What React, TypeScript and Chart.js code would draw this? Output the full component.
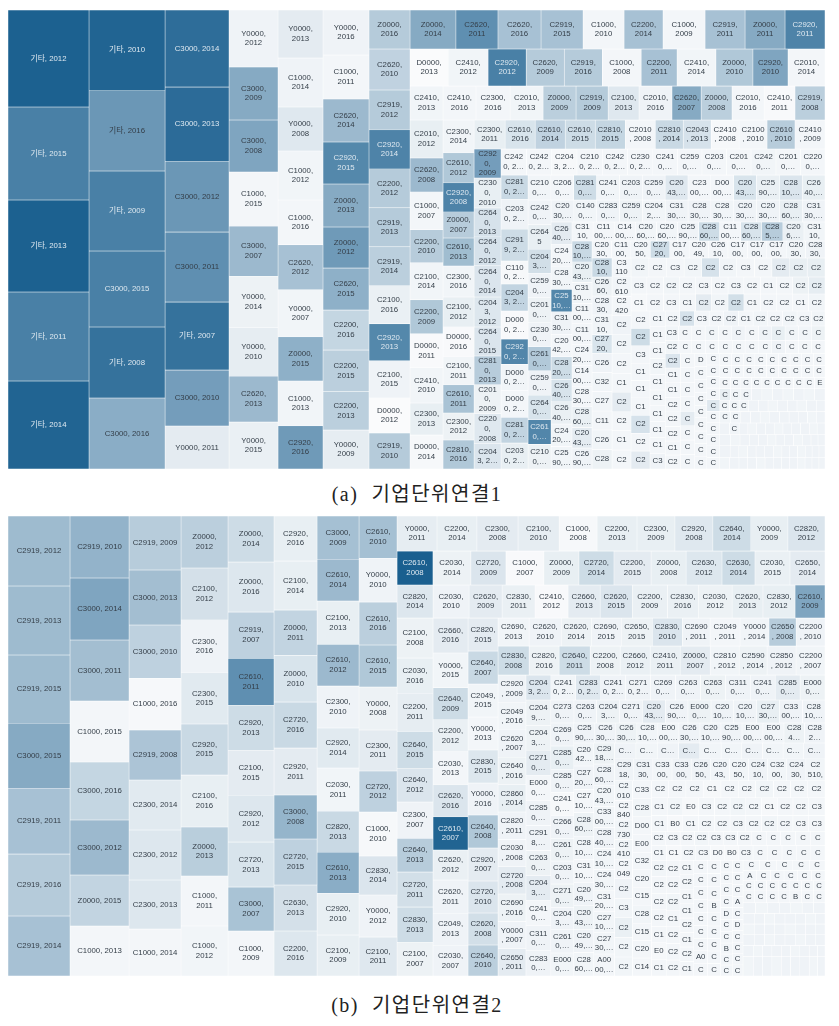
import React, { useEffect, useRef } from "react";
import { Chart, registerables } from "chart.js";

Chart.register(...registerables);

type Strip = [string, string[], number[], number[]];

const PANEL_W = 817;
const PANEL_A_H = 459;
const PANEL_B_H = 460;

// ---------- Panel (a): each strip = direction, labels, cell values, colour values ----------
const a01: Strip = ["v", ["기타, 2012", "기타, 2015", "기타, 2013", "기타, 2011", "기타, 2014"], [786, 753, 745, 721, 713], [99, 79, 99, 79, 97]];
const a02: Strip = ["v", ["기타, 2010", "기타, 2016", "기타, 2009", "C3000, 2015", "기타, 2008", "C3000, 2016"], [613, 611, 608, 578, 540, 540], [97, 64, 79, 79, 88, 50]];
const a03: Strip = ["v", ["C3000, 2014", "C3000, 2013", "C3000, 2012", "C3000, 2011", "기타, 2007", "C3000, 2010", "Y0000, 2011"], [493, 474, 454, 448, 435, 358, 275], [91, 92, 64, 69, 88, 60, 10]];
const a04: Strip = ["v", ["Y0000,\n2012", "C3000,\n2009", "C3000,\n2008", "C1000,\n2015", "C3000,\n2007", "Y0000,\n2014", "Y0000,\n2010", "C2620,\n2013", "Y0000,\n2015"], [279, 260, 255, 265, 245, 250, 240, 225, 230], [5, 52, 55, 3, 42, 6, 9, 42, 7]];
const a05: Strip = ["v", ["Y0000,\n2013", "C1000,\n2014", "Y0000,\n2008", "C1000,\n2012", "C1000,\n2016", "C2620,\n2012", "Y0000,\n2007", "Z0000,\n2015", "C1000,\n2013", "C2920,\n2016"], [216, 220, 198, 220, 202, 202, 212, 198, 202, 194], [10, 5, 12, 4, 3, 37, 4, 48, 4, 62]];
const a06: Strip = ["v", ["Y0000,\n2016", "C1000,\n2011", "C2620,\n2014", "C2920,\n2015", "Z0000,\n2013", "Z0000,\n2012", "C2620,\n2015", "C2200,\n2016", "C2200,\n2015", "C2200,\n2013", "Y0000,\n2009"], [207, 202, 198, 193, 198, 189, 193, 184, 189, 179, 179], [5, 3, 42, 74, 52, 62, 48, 24, 28, 28, 9]];
const a07: Strip = ["v", ["Z0000,\n2016", "C2620,\n2010", "C2919,\n2012", "C2920,\n2014", "C2200,\n2012", "C2919,\n2013", "C2919,\n2014", "C2100,\n2016", "C2920,\n2013", "C2100,\n2015", "D0000,\n2012", "C2919,\n2010"], [160, 168, 164, 160, 160, 160, 160, 156, 152, 152, 144, 148], [31, 26, 31, 77, 31, 31, 28, 7, 74, 5, 0, 31]];
const a08: Strip = ["h", ["Z0000,\n2014", "C2620,\n2011", "C2620,\n2016", "C2919,\n2015", "C1000,\n2010", "C2200,\n2014", "C1000,\n2009", "C2919,\n2011", "Z0000,\n2011", "C2920,\n2011"], [179, 164, 168, 164, 160, 152, 164, 156, 156, 156], [52, 69, 37, 37, 3, 37, 3, 37, 52, 77]];
const a09: Strip = ["h", ["D0000,\n2013", "C2410,\n2012", "C2920,\n2012", "C2620,\n2009", "C2919,\n2016", "C1000,\n2008", "C2200,\n2011", "C2410,\n2014", "Z0000,\n2010", "C2920,\n2010", "C2010,\n2014"], [141, 148, 141, 141, 141, 144, 133, 144, 137, 130, 137], [0, 4, 79, 31, 31, 3, 37, 4, 33, 55, 3]];
const a10: Strip = ["h", ["C2410,\n2013", "C2410,\n2016", "C2300,\n2016", "C2010,\n2013", "Z0000,\n2009", "C2919,\n2009", "C2100,\n2013", "C2010,\n2016", "C2620,\n2007", "Z0000,\n2008", "C2010,\n2016", "C2410,\n2011", "C2919,\n2008"], [112, 112, 116, 112, 112, 109, 105, 112, 99, 105, 109, 105, 102], [4, 3, 3, 4, 28, 31, 12, 5, 52, 28, 3, 1, 28]];
const a11: Strip = ["v", ["C2010,\n2012", "C2620,\n2008", "C1000,\n2007", "C2200,\n2010", "C2100,\n2014", "C2200,\n2009", "D0000,\n2011", "C2410,\n2010", "C2300,\n2013", "D0000,\n2014"], [125, 112, 125, 109, 122, 112, 112, 116, 106, 112], [8, 42, 3, 30, 4, 33, 1, 4, 8, 2]];
const a12: Strip = ["v", ["C2300,\n2014", "C2610,\n2012", "C2920,\n2008", "Z0000,\n2007", "C2610,\n2013", "C2300,\n2016", "C2100,\n2012", "D0000,\n2016", "C2100,\n2011", "C2610,\n2011", "C2300,\n2012", "C2810,\n2016"], [102, 93, 90, 81, 87, 96, 93, 93, 87, 87, 84, 90], [4, 33, 77, 30, 40, 4, 8, 1, 4, 36, 6, 33]];
const a13: Strip = ["h", ["C2300,\n2011", "C2610,\n2016", "C2610,\n2014", "C2610,\n2015", "C2810,\n2015", "C2010\n, 2008", "C2810\n, 2014", "C2043\n, 2013", "C2410\n, 2008", "C2100\n, 2010", "C2610\n, 2010", "C2410\n, 2009"], [90, 87, 87, 87, 87, 87, 81, 81, 81, 81, 81, 87], [8, 15, 26, 20, 24, 3, 22, 16, 2, 3, 30, 3]];
const a14: Strip = ["v", ["C292\n0,\n2009", "C230\n0,\n2010", "C264\n0,\n2013", "C264\n0,\n2012", "C264\n0,\n2014", "C204\n3,\n2012", "C264\n0,\n2015", "C281\n0,\n2013", "C201\n0,\n2009", "C220\n0,\n2008", "C204\n3, 2…"], [78, 81, 78, 78, 84, 81, 78, 78, 78, 81, 68], [60, 8, 16, 16, 14, 13, 14, 30, 6, 12, 14]];
const a15: Strip = ["h", ["C242\n0, 2…", "C242\n0, 2…", "C204\n3, 2…", "C210\n0, 2…", "C242\n0, 2…", "C230\n0, 2…", "C241\n0,…", "C259\n0,…", "C203\n0,…", "C201\n0,…", "C242\n0,…", "C201\n0,…", "C220\n0,…"], [66, 66, 66, 66, 66, 66, 64, 64, 64, 64, 65, 64, 64], [3, 3, 2, 3, 3, 3, 3, 3, 3, 3, 4, 3, 3]];
const a16: Strip = ["v", ["C281\n0, 2…", "C203\n0, 2…", "C291\n9, 2…", "C110\n0, 2…", "C204\n3, 2…", "D000\n0, 2…", "C292\n0, 2…", "D000\n0, 2…", "D000\n0, 2…", "C281\n0, 2…", "C203\n0, 2…"], [65, 81, 86, 62, 73, 76, 68, 70, 73, 70, 70], [22, 5, 20, 2, 25, 1, 75, 4, 3, 25, 8]];
const a17: Strip = ["h", ["C210\n0,…", "C206\n0,…", "C281\n0,…", "C241\n0,…", "C203\n0,…", "C259\n0,…", "C20\n43,…", "C23\n00,…", "D00\n00,…", "C20\n43,…", "C25\n90,…", "C28\n10,…", "C26\n40,…"], [57, 57, 57, 57, 57, 57, 57, 57, 57, 57, 57, 57, 57], [4, 3, 20, 4, 5, 5, 12, 3, 3, 15, 7, 14, 8]];
const a18: Strip = ["v", ["C242\n0,…", "C264\n5", "C204\n3,…", "C259\n0,…", "C201\n0,…", "C230\n0,…", "C261\n0,…", "C259\n0,…", "C264\n0,…", "C261\n0,…", "C210\n0,…"], [57, 56, 56, 56, 56, 56, 56, 56, 56, 57, 57], [5, 8, 18, 5, 6, 5, 32, 5, 15, 75, 6]];
const a19: Strip = ["h", ["C20\n30,…", "C140\n0,…", "C283\n0,…", "C259\n0,…", "C204\n2,…", "C31\n30,…", "C28\n30,…", "C28\n30,…", "C20\n30,…", "C20\n30,…", "C28\n60,…", "C31\n30,…"], [50, 50, 50, 50, 50, 50, 50, 50, 50, 50, 50, 50], [5, 4, 5, 6, 4, 5, 5, 4, 5, 5, 8, 5]];
const a20: Strip = ["v", ["C26\n40,…", "C24\n20,…", "C28\n30,…", "C25\n10,…", "C31\n30,…", "C20\n42,…", "C28\n20,…", "C26\n40,…", "C26\n40,…", "C24\n20,…", "C25\n90,…"], [47, 47, 47, 47, 47, 47, 47, 47, 47, 47, 47], [10, 3, 4, 75, 5, 3, 20, 15, 7, 4, 4]];
const a21: Strip = ["h", ["C31\n10,", "C11\n00,…", "C14\n00,…", "C20\n60,…", "C20\n60,…", "C25\n90,…", "C28\n60,…", "C11\n00,…", "C28\n60,…", "C28\n5,…", "C20\n6,…", "C31\n10,"], [40, 40, 40, 40, 40, 40, 40, 40, 40, 40, 40, 40], [3, 3, 3, 4, 4, 5, 20, 3, 15, 30, 7, 4]];
const a22: Strip = ["v", ["C28\n10,…", "C20\n43,…", "C31\n10,…", "C11\n00,…", "C11\n00,…", "C24\n20,…", "C14\n00,…", "C28\n30,…", "C28\n60,…", "C20\n43,…", "C26\n90,…"], [42, 41, 42, 41, 42, 41, 42, 41, 42, 41, 42], [22, 8, 4, 3, 3, 3, 3, 3, 7, 10, 5]];
const a23: Strip = ["h", ["C20\n30,", "C11\n00,", "C20\n50,", "C27\n20,", "C17\n00,", "C20\n49,", "C26\n10,", "C17\n00,", "C17\n00,", "C17\n00,", "C20\n30,", "C28\n30,"], [33, 33, 33, 33, 33, 33, 33, 33, 33, 33, 33, 33], [3, 3, 3, 20, 3, 3, 3, 3, 3, 3, 4, 5]];
const a24: Strip = ["v", ["C28\n10,", "C26\n60,", "C28\n30,", "C31\n10,", "C27\n20,", "C26", "C32", "C27", "C11", "C26", "C28"], [38, 38, 38, 39, 38, 38, 38, 39, 38, 39, 39], [22, 6, 5, 4, 15, 5, 4, 4, 3, 4, 6]];
const a25: Strip = ["v", ["C3\n110", "C2\n610", "C2\n420", "C2", "C2", "C2", "C1", "C2", "C2", "C1", "C2"], [36, 37, 36, 37, 36, 37, 36, 37, 36, 37, 36], [3, 4, 3, 5, 4, 3, 3, 10, 3, 3, 3]];
const a26: Strip = ["h", ["C2", "C2", "C3", "C2", "C2", "C2", "C3", "C2", "C2", "C2", "C2"], [34, 33, 34, 33, 34, 33, 34, 33, 34, 33, 34], [4, 3, 3, 4, 16, 4, 3, 3, 10, 8, 8]];
const a27: Strip = ["h", ["C3", "C2", "C2", "C2", "C3", "C2", "C3", "C2", "C1", "C2", "C2", "C2"], [27, 28, 27, 28, 27, 28, 27, 28, 27, 28, 27, 28], [3, 3, 4, 3, 3, 3, 3, 3, 3, 3, 6, 9]];
const a28: Strip = ["h", ["C1", "C2", "C3", "C1", "C2", "C2", "C2", "C1", "C2", "C2", "C1", "C2"], [27, 28, 27, 28, 27, 28, 27, 28, 27, 28, 27, 28], [2, 3, 3, 3, 10, 4, 18, 3, 3, 3, 3, 4]];
const a29: Strip = ["v", ["C2", "C2", "C3", "C1", "C1", "C1", "C2", "C2", "C2"], [33, 33, 33, 33, 33, 33, 34, 34, 34], [3, 20, 3, 3, 3, 3, 16, 3, 10]];
const a30: Strip = ["v", ["C1", "C1", "C1", "C2", "C1", "C1", "C1", "C1", "C1", "C3"], [24, 24, 24, 24, 24, 24, 24, 24, 24, 24], [3, 3, 3, 4, 3, 3, 3, 3, 3, 5]];
const a31: Strip = ["h", ["C2", "C2", "C3", "C2", "C2", "C1", "C2", "C2", "C2", "C3", "C2"], [22, 22, 22, 22, 22, 22, 22, 22, 22, 22, 20], [3, 16, 3, 3, 5, 3, 4, 3, 4, 3, 4]];
const a32: Strip = ["h", ["C3", "C", "C", "C", "C", "C", "C", "C", "C", "C", "C", "C"], [19, 19, 19, 19, 19, 19, 19, 19, 19, 19, 19, 19], [4, 3, 3, 4, 3, 5, 3, 5, 8, 4, 4, 6]];
const a33: Strip = ["h", ["C2", "C", "C", "C", "C", "C", "C", "C", "C", "C", "C", "C"], [18, 17, 18, 17, 18, 17, 18, 17, 18, 17, 17, 18], [4, 3, 3, 3, 3, 3, 3, 3, 5, 3, 3, 3]];
const a34: Strip = ["v", ["C2", "C1", "C1", "C2", "C2", "C2", "C1", "C2"], [22, 22, 22, 22, 22, 22, 21, 21], [14, 3, 3, 3, 3, 3, 3, 3]];
const a35: Strip = ["v", ["C", "C", "C", "C", "C", "C", "C", "C"], [21, 21, 21, 21, 21, 21, 21, 21], [3, 3, 3, 3, 10, 3, 3, 3]];
const a36: Strip = ["v", ["D", "C", "C", "C", "C", "C", "C", "C", "C"], [16, 16, 15, 16, 15, 16, 15, 16, 15], [3, 3, 3, 3, 3, 3, 3, 3, 3]];
const a37: Strip = ["v", ["C", "C", "C", "C", "C", "C", "C", "C", "C", "C"], [15, 15, 15, 15, 15, 15, 15, 15, 15, 15], [3, 3, 3, 3, 12, 3, 3, 3, 3, 3]];
const a38: Strip = ["h", ["C", "C", "C", "C", "C", "C", "C", "C", "C"], [14, 14, 14, 14, 14, 14, 14, 14, 14], [3, 3, 3, 3, 3, 3, 3, 3, 3]];
const a39: Strip = ["h", ["C", "C", "C", "C", "C", "C", "C", "C", "C"], [14, 14, 14, 14, 14, 14, 14, 14, 14], [3, 3, 3, 3, 3, 3, 3, 3, 3]];
const a40: Strip = ["h", ["C", "C", "C", "C", "C", "C", "C", "C", "C", "E"], [12, 12, 12, 12, 12, 12, 12, 12, 12, 12], [3, 3, 3, 3, 3, 3, 3, 3, 3, 3]];
const a41: Strip = ["h", ["C", "C", "C", "", "", "", "", "", "", ""], [12, 12, 12, 12, 12, 12, 12, 12, 12, 12], [8, 4, 4, 5, 4, 5, 4, 5, 4, 5]];
const a42: Strip = ["h", ["C", "C", "C", "", "", "", "", "", "", "", ""], [11, 11, 11, 11, 11, 11, 11, 11, 11, 11, 10], [4, 4, 4, 5, 5, 4, 5, 5, 4, 5, 5]];
const a43: Strip = ["h", ["C", "C", "", "", "", "", "", "", "", "", ""], [12, 12, 11, 11, 11, 11, 11, 11, 10, 10, 10], [4, 4, 5, 5, 4, 5, 5, 5, 5, 4, 5]];
const a44: Strip = ["h", ["", "C", "", "", "", "", "", "", "", "", "", ""], [11, 11, 10, 10, 10, 10, 10, 10, 10, 10, 9, 9], [5, 4, 5, 4, 5, 5, 4, 5, 5, 5, 4, 5]];
const a45: Strip = ["h", ["", "", "", "", "", "", "", "", "", "", "", ""], [12, 11, 11, 10, 10, 10, 10, 10, 10, 10, 8, 8], [5, 4, 5, 5, 5, 4, 5, 5, 4, 5, 5, 5]];
const a46: Strip = ["h", ["", "", "", "", "", "", "", "", "", "", "", "", ""], [12, 10, 10, 10, 10, 10, 10, 9, 9, 9, 8, 8, 7], [5, 5, 4, 5, 5, 5, 4, 5, 5, 4, 5, 5, 5]];
const a47: Strip = ["h", ["", "", "", "", "", "", "", "", "", "", "", "", ""], [11, 11, 10, 10, 10, 10, 9, 9, 9, 9, 8, 8, 7], [4, 5, 5, 5, 4, 5, 5, 5, 5, 4, 5, 5, 5]];

// ---------- Panel (b) ----------
const b01: Strip = ["v", ["C2919, 2012", "C2919, 2013", "C2919, 2015", "C3000, 2015", "C2919, 2011", "C2919, 2016", "C2919, 2014"], [434, 428, 422, 403, 409, 384, 372], [41, 41, 41, 52, 37, 31, 37]];
const b02: Strip = ["v", ["C2919, 2010", "C3000, 2014", "C3000, 2011", "C1000, 2015", "C3000, 2016", "C3000, 2012", "Z0000, 2015", "C1000, 2013"], [366, 366, 360, 360, 342, 325, 301, 295], [46, 55, 39, 3, 24, 42, 25, 3]];
const b03: Strip = ["v", ["C2919, 2009", "C3000, 2013", "C3000, 2010", "C1000, 2016", "C2919, 2008", "C2300, 2014", "C2300, 2012", "C2300, 2013", "C1000, 2014"], [281, 286, 276, 270, 260, 260, 260, 255, 244], [30, 39, 27, 2, 35, 11, 13, 13, 3]];
const b04: Strip = ["v", ["Z0000,\n2012", "C2100,\n2012", "C2300,\n2016", "C2300,\n2015", "C2920,\n2015", "C2100,\n2016", "Z0000,\n2013", "C1000,\n2011", "C1000,\n2012"], [244, 244, 249, 240, 240, 244, 230, 235, 235], [28, 17, 5, 11, 22, 8, 29, 3, 4]];
const b05: Strip = ["v", ["Z0000,\n2014", "Z0000,\n2016", "C2919,\n2007", "C2610,\n2011", "C2920,\n2013", "C2100,\n2015", "C2920,\n2012", "C2720,\n2013", "C3000,\n2007", "C1000,\n2009"], [212, 230, 212, 216, 207, 207, 216, 207, 202, 207], [20, 13, 27, 69, 20, 10, 13, 15, 36, 3]];
const b06: Strip = ["v", ["C2920,\n2016", "C2100,\n2014", "Z0000,\n2011", "Z0000,\n2010", "C2720,\n2016", "C2920,\n2011", "C3000,\n2008", "C2720,\n2015", "C2630,\n2013", "C2200,\n2016"], [194, 211, 194, 202, 198, 202, 189, 198, 198, 194], [8, 8, 25, 15, 22, 10, 45, 27, 17, 13]];
const b07: Strip = ["v", ["C3000,\n2009", "C2610,\n2014", "C2100,\n2013", "C2610,\n2012", "C2300,\n2010", "C2920,\n2014", "C2030,\n2011", "C2820,\n2013", "C2610,\n2013", "C2920,\n2010", "C2100,\n2009"], [181, 176, 181, 176, 176, 168, 181, 172, 172, 176, 172], [38, 42, 8, 42, 5, 11, 4, 22, 50, 8, 8]];
const b08: Strip = ["v", ["C2610,\n2010", "Y0000,\n2010", "C2610,\n2016", "C2610,\n2015", "Y0000,\n2008", "C2300,\n2011", "C2720,\n2012", "C1000,\n2010", "C2830,\n2014", "Y0000,\n2012", "C2100,\n2011"], [160, 167, 163, 160, 163, 156, 156, 167, 148, 160, 148], [38, 5, 28, 33, 6, 10, 27, 2, 14, 5, 12]];
const b09: Strip = ["h", ["Y0000,\n2011", "C2200,\n2014", "C2300,\n2008", "C2100,\n2010", "C1000,\n2008", "C2200,\n2013", "C2300,\n2009", "C2920,\n2008", "C2640,\n2014", "Y0000,\n2009", "C2820,\n2012"], [140, 140, 144, 144, 133, 140, 133, 133, 133, 130, 130], [9, 8, 10, 9, 2, 8, 8, 12, 20, 8, 14]];
const b10: Strip = ["h", ["C2610,\n2008", "C2030,\n2014", "C2720,\n2009", "C1000,\n2007", "Z0000,\n2009", "C2720,\n2014", "C2200,\n2015", "Z0000,\n2008", "C2630,\n2012", "C2630,\n2014", "C2030,\n2015", "C2650,\n2014"], [122, 129, 119, 129, 119, 119, 126, 119, 122, 112, 119, 119], [100, 6, 14, 1, 8, 20, 10, 8, 13, 20, 7, 10]];
const b11: Strip = ["h", ["C2820,\n2014", "C2030,\n2010", "C2620,\n2009", "C2830,\n2011", "C2410,\n2012", "C2660,\n2013", "C2620,\n2015", "C2200,\n2009", "C2830,\n2016", "C2030,\n2012", "C2620,\n2013", "C2830,\n2012", "C2610,\n2009"], [119, 119, 109, 109, 109, 106, 106, 116, 102, 112, 102, 106, 99], [13, 5, 10, 7, 1, 10, 14, 7, 7, 6, 8, 8, 55]];
const b12: Strip = ["v", ["C2100,\n2008", "C2030,\n2016", "C2200,\n2011", "C2640,\n2015", "C2640,\n2012", "C2300,\n2007", "C2640,\n2013", "C2720,\n2011", "C2830,\n2013", "C2100,\n2007"], [144, 126, 137, 133, 122, 130, 122, 126, 126, 122], [6, 8, 9, 20, 14, 5, 30, 18, 20, 6]];
const b13: Strip = ["v", ["C2660,\n2016", "Y0000,\n2015", "C2640,\n2009", "C2200,\n2012", "C2030,\n2013", "C2620,\n2016", "C2610,\n2007", "C2620,\n2012", "C2620,\n2011", "C2049,\n2013", "C2030,\n2007"], [122, 122, 112, 112, 116, 112, 116, 105, 116, 112, 108], [10, 4, 20, 7, 3, 14, 97, 7, 5, 5, 5]];
const b14: Strip = ["v", ["C2820,\n2015", "C2640,\n2007", "C2049,\n2015", "Y0000,\n2013", "C2830,\n2015", "Y0000,\n2016", "C2640,\n2008", "C2920,\n2007", "C2720,\n2010", "C2620,\n2008", "C2640,\n2010"], [99, 99, 99, 99, 99, 96, 99, 99, 96, 96, 93], [10, 22, 4, 3, 13, 5, 33, 10, 14, 18, 28]];
const b15: Strip = ["h", ["C2690,\n2013", "C2620,\n2010", "C2620,\n2014", "C2690,\n2015", "C2650,\n2015", "C2830,\n2010", "C2690\n, 2011", "C2049\n, 2011", "Y0000\n, 2014", "C2650\n, 2008", "C2200\n, 2010"], [87, 90, 84, 84, 87, 84, 78, 84, 81, 76, 81], [4, 5, 6, 5, 6, 14, 5, 3, 4, 30, 5]];
const b16: Strip = ["h", ["C2830,\n2008", "C2820,\n2016", "C2640,\n2011", "C2200,\n2008", "C2660,\n2012", "C2410,\n2011", "Z0000,\n2007", "C2810\n, 2012", "C2590\n, 2014", "C2850\n, 2012", "C2200\n, 2007"], [90, 87, 90, 87, 87, 87, 87, 84, 81, 84, 84], [20, 6, 20, 6, 7, 7, 10, 4, 6, 5, 4]];
const b17: Strip = ["v", ["C2920\n, 2009", "C2049\n, 2016", "C2620\n, 2007", "C2640\n, 2016", "C2860\n, 2014", "C2820\n, 2011", "C2030\n, 2008", "C2720\n, 2008", "C2690\n, 2016", "Y0000\n, 2007", "C2650\n, 2011"], [77, 76, 76, 77, 76, 77, 76, 76, 77, 76, 76], [5, 4, 5, 6, 8, 5, 5, 10, 6, 5, 10]];
const b18: Strip = ["h", ["C204\n3, 2…", "C241\n0, 2…", "C283\n0, 2…", "C241\n0, 2…", "C271\n0, 2…", "C269\n0,…", "C263\n0,…", "C263\n0,…", "C311\n0,…", "C241\n0,…", "C285\n0,…", "E000\n0,…"], [62, 62, 62, 62, 62, 62, 62, 62, 62, 62, 62, 62], [14, 4, 12, 5, 5, 5, 5, 6, 5, 5, 10, 6]];
const b19: Strip = ["v", ["C204\n9,…", "C204\n3,…", "C271\n0,…", "E000\n0,…", "C285\n0,…", "C291\n8,…", "C263\n0,…", "C204\n3,…", "C241\n0,…", "C311\n0,…", "C283\n0,…"], [63, 62, 63, 62, 63, 62, 63, 62, 63, 62, 63], [6, 6, 10, 3, 5, 5, 6, 10, 3, 5, 5]];
const b20: Strip = ["h", ["C273\n0,…", "C263\n0,…", "C204\n3,…", "C271\n0,…", "C20\n43,…", "C26\n90,…", "E000\n0,…", "C20\n10,…", "C20\n10,…", "C27\n30,…", "C33\n00,…", "C28\n10,…"], [53, 52, 53, 52, 53, 52, 53, 52, 53, 52, 53, 52], [5, 5, 6, 5, 10, 5, 6, 5, 5, 8, 5, 5]];
const b21: Strip = ["v", ["C269\n0,…", "C285\n0,…", "C285\n0,…", "C241\n0,…", "C266\n0,…", "C261\n0,…", "C203\n0,…", "C271\n0,…", "C204\n3,…", "C261\n0,…", "E000\n0,…"], [53, 53, 53, 53, 53, 52, 53, 53, 52, 53, 53], [5, 8, 5, 2, 5, 6, 5, 6, 5, 5, 4]];
const b22: Strip = ["h", ["C25\n90,…", "C26\n30,…", "C26\n30,…", "C28\n10,…", "E00\n00,…", "C26\n30,…", "C20\n10,…", "C25\n90,…", "E00\n00,…", "E00\n00,…", "C28\n4…", "C28\n2…"], [42, 42, 42, 42, 42, 42, 42, 42, 42, 42, 41, 41], [5, 5, 6, 4, 4, 5, 5, 5, 4, 4, 6, 5]];
const b23: Strip = ["v", ["C20\n42…", "C27\n20,…", "C27\n10,…", "C28\n60,…", "C28\n10,…", "C31\n10,…", "C20\n49,…", "C20\n43,…", "C20\n49,…", "C28\n60,…"], [46, 47, 46, 47, 46, 47, 46, 47, 46, 47], [4, 5, 3, 6, 4, 3, 5, 6, 5, 4]];
const b24: Strip = ["v", ["C29\n18,…", "C28\n60,…", "C20\n43,…", "C33\n00,…", "C28\n40,…", "C24\n10,…", "C24\n30,…", "C31\n20,…", "C27\n10,…", "C27\n30,…", "A00\n00,…"], [44, 44, 44, 44, 44, 44, 44, 44, 44, 44, 46], [6, 5, 4, 4, 5, 4, 4, 3, 4, 4, 3]];
const b25: Strip = ["h", ["C…", "C…", "C…", "C…", "C…", "C…", "C…", "C…", "C…", "C…"], [34, 34, 34, 34, 34, 33, 33, 33, 33, 34], [5, 4, 5, 10, 4, 4, 5, 4, 4, 5]];
const b26: Strip = ["h", ["C29\n18,", "C31\n30,", "C33\n00,", "C33\n00,", "C26\n50,", "C20\n43,", "C20\n50,", "C24\n10,", "C32\n00,", "C24\n30,", "C2\n510,"], [42, 42, 42, 42, 42, 42, 42, 42, 42, 42, 42], [5, 5, 4, 5, 5, 4, 4, 5, 4, 5, 4]];
const b27: Strip = ["v", ["C2\n010", "C2\n840", "C2\n730", "C2\n410", "C2\n049", "C2", "C3", "C2", "C2", "C2"], [35, 35, 35, 35, 35, 35, 35, 35, 35, 34], [4, 3, 4, 4, 3, 5, 4, 7, 4, 4]];
const b28: Strip = ["v", ["C33", "C28", "D00", "E00", "C32", "C20", "C15", "C28", "C15", "C20", "C14"], [34, 34, 34, 33, 33, 33, 34, 34, 33, 33, 34], [3, 4, 3, 3, 3, 3, 3, 4, 3, 3, 3]];
const b29: Strip = ["h", ["C2", "C2", "C2", "C1", "C2", "C2", "C2", "C2", "C2", "C2"], [29, 29, 29, 30, 29, 29, 30, 29, 29, 29], [3, 3, 3, 2, 3, 3, 4, 3, 3, 3]];
const b30: Strip = ["h", ["C1", "C2", "E0", "C3", "C2", "C2", "C2", "C1", "C2", "C2", "C3"], [28, 28, 28, 28, 28, 28, 28, 28, 28, 28, 29], [3, 4, 2, 3, 3, 4, 3, 2, 3, 3, 3]];
const b31: Strip = ["h", ["C1", "B0", "C1", "C2", "C2", "C3", "C2", "C2", "C2", "C3", "C3"], [25, 25, 25, 25, 25, 25, 25, 25, 25, 25, 26], [3, 2, 3, 3, 3, 3, 3, 4, 3, 3, 3]];
const b32: Strip = ["h", ["C2", "C3", "C2", "C2", "C3", "C3", "C2", "C", "C", "C", "C", "C"], [20, 20, 20, 20, 20, 20, 20, 20, 20, 21, 21, 20], [3, 3, 3, 4, 3, 3, 3, 3, 3, 3, 3, 3]];
const b33: Strip = ["h", ["C1", "C1", "C2", "C3", "D0", "B0", "C3", "C", "C", "C", "C", "C"], [22, 22, 22, 22, 21, 21, 21, 21, 22, 22, 21, 21], [3, 2, 3, 3, 2, 2, 3, 3, 3, 3, 3, 3]];
const b34: Strip = ["v", ["C2", "C2", "C2", "C2", "C1", "E0", "C1"], [24, 25, 24, 25, 24, 25, 24], [4, 3, 3, 3, 3, 2, 3]];
const b35: Strip = ["v", ["C2", "C2", "C2", "C1", "C2", "C2", "C2"], [23, 23, 23, 23, 23, 23, 22], [3, 3, 4, 3, 3, 3, 3]];
const b36: Strip = ["v", ["C1", "C2", "C1", "C1", "C2", "C1", "C2", "C1"], [20, 20, 20, 20, 20, 20, 20, 20], [3, 3, 3, 3, 3, 3, 3, 3]];
const b37: Strip = ["v", ["C", "C", "C", "C", "C", "C", "C", "A0", "C"], [18, 18, 18, 18, 18, 18, 17, 18, 17], [3, 3, 3, 3, 3, 3, 3, 3, 3]];
const b38: Strip = ["v", ["C", "C", "C", "B", "C", "C", "C", "C", "C"], [17, 17, 17, 16, 17, 16, 16, 16, 16], [3, 3, 3, 3, 3, 3, 3, 3, 3]];
const b39: Strip = ["v", ["C", "C", "C", "C", "D", "C", "C", "B", "C", "C"], [14, 14, 14, 14, 14, 14, 14, 13, 13, 13], [3, 3, 3, 3, 3, 3, 3, 3, 3, 3]];
const b40: Strip = ["v", ["C", "C", "C", "A", "C", "D", "C", "C", "C", "C"], [13, 13, 13, 12, 13, 12, 13, 12, 12, 12], [3, 3, 3, 3, 3, 3, 3, 3, 3, 3]];
const b41: Strip = ["h", ["C", "C", "C", "C", "C"], [17, 17, 17, 17, 16], [3, 3, 3, 3, 3]];
const b42: Strip = ["h", ["A", "C", "C", "C", "C", "C"], [14, 14, 14, 14, 14, 14], [3, 3, 3, 3, 3, 3]];
const b43: Strip = ["h", ["C", "C", "C", "C", "C", "C", "C"], [12, 12, 12, 12, 12, 12, 12], [3, 3, 3, 3, 3, 3, 3]];
const b44: Strip = ["h", ["C", "C", "C", "C", "B", "C", "C"], [14, 14, 14, 14, 14, 14, 14], [3, 3, 3, 3, 3, 3, 3]];
const b45: Strip = ["h", ["", "", "", "", "", "", ""], [13, 13, 12, 12, 12, 12, 12], [5, 4, 5, 5, 4, 5, 5]];
const b46: Strip = ["h", ["", "", "", "", "", "", "", ""], [12, 11, 11, 11, 11, 11, 11, 10], [5, 5, 4, 5, 5, 5, 4, 5]];
const b47: Strip = ["h", ["", "", "", "", "", "", "", ""], [12, 11, 11, 11, 11, 11, 11, 10], [4, 5, 5, 5, 4, 5, 5, 5]];
const b48: Strip = ["h", ["", "", "", "", "", "", "", ""], [12, 11, 11, 11, 11, 11, 11, 10], [5, 5, 4, 5, 5, 4, 5, 5]];
const b49: Strip = ["h", ["", "", "", "", "", "", "", "", ""], [11, 10, 10, 10, 10, 10, 10, 9, 8], [5, 4, 5, 5, 5, 4, 5, 5, 5]];
const b50: Strip = ["h", ["", "", "", "", "", "", "", "", ""], [11, 10, 10, 10, 10, 10, 10, 9, 8], [4, 5, 5, 4, 5, 5, 5, 4, 5]];

const panelAStrips = [a01, a02, a03, a04, a05, a06, a07, a08, a09, a10, a11, a12, a13, a14, a15, a16, a17, a18, a19, a20, a21, a22, a23, a24, a25, a26, a27, a28, a29, a30, a31, a32, a33, a34, a35, a36, a37, a38, a39, a40, a41, a42, a43, a44, a45, a46, a47];
const panelBStrips = [b01, b02, b03, b04, b05, b06, b07, b08, b09, b10, b11, b12, b13, b14, b15, b16, b17, b18, b19, b20, b21, b22, b23, b24, b25, b26, b27, b28, b29, b30, b31, b32, b33, b34, b35, b36, b37, b38, b39, b40, b41, b42, b43, b44, b45, b46, b47, b48, b49, b50];

const captionA = "(a)  기업단위연결1";
const captionB = "(b)  기업단위연결2";

// Treemap slice layout: every strip takes the area of its values from what is left.
function layoutStrips(strips: Strip[], W: number, H: number) {
  const cells: any[] = [];
  let x = 0, y = 0, w = W, h = H;
  strips.forEach(([dir, labels, values, shades], si) => {
    const sum = values.reduce((a, b) => a + b, 0);
    const last = si === strips.length - 1;
    if (dir === "v") {
      const t = last ? w : (sum * 10) / h;
      let cy = y;
      values.forEach((v, i) => {
        const len = (v / sum) * h;
        cells.push({ label: labels[i], shade: shades[i], x0: x, x1: x + t, y0: cy, y1: cy + len });
        cy += len;
      });
      x += t;
      w -= t;
    } else {
      const t = last ? h : (sum * 10) / w;
      let cx = x;
      values.forEach((v, i) => {
        const len = (v / sum) * w;
        cells.push({ label: labels[i], shade: shades[i], x0: cx, x1: cx + len, y0: y, y1: y + t });
        cx += len;
      });
      y += t;
      h -= t;
    }
  });
  return cells;
}

function shadeColor(s: number) {
  const t = Math.min(1, s / 100);
  return `rgb(${Math.round(250 - 224 * t)},${Math.round(251 - 156 * t)},${Math.round(252 - 109 * t)})`;
}

const cellLabels = {
  id: "cellLabels",
  afterDatasetsDraw(chart: any) {
    const ctx = chart.ctx;
    ctx.save();
    ctx.textAlign = "center";
    ctx.textBaseline = "middle";
    ctx.font = '7.8px "Liberation Sans", "Noto Sans CJK KR", sans-serif';
    chart.data.datasets.forEach((ds: any, i: number) => {
      if (!ds.label) return;
      const el = chart.getDatasetMeta(i).data[0];
      const lines = String(ds.label).split("\n");
      const cy = (el.y + el.base) / 2;
      const lh = 9.6;
      ctx.fillStyle = ds.shade >= 72 ? "rgb(222,232,240)" : "rgb(52,62,72)";
      lines.forEach((ln: string, k: number) => {
        ctx.fillText(ln, el.x, cy + (k - (lines.length - 1) / 2) * lh);
      });
    });
    ctx.restore();
  },
};

function Treemap({ strips, height, top }: { strips: Strip[]; height: number; top: number }) {
  const ref = useRef<HTMLCanvasElement>(null);
  useEffect(() => {
    const cells = layoutStrips(strips, PANEL_W, height);
    const datasets = cells.map((c) => ({
      label: c.label,
      shade: c.shade,
      data: [{ x: (c.x0 + c.x1) / 2, y: [c.y0, c.y1] }],
      backgroundColor: shadeColor(c.shade),
      borderColor: "rgba(255,255,255,0.7)",
      borderWidth: 0.55,
      borderSkipped: false,
      barThickness: c.x1 - c.x0,
      grouped: false,
    }));
    const chart = new Chart(ref.current as HTMLCanvasElement, {
      type: "bar",
      data: { datasets: datasets as any },
      options: {
        animation: false,
        responsive: false,
        maintainAspectRatio: false,
        layout: { padding: 0 },
        plugins: { legend: { display: false }, tooltip: { enabled: false }, title: { display: false } },
        scales: {
          x: { type: "linear", display: false, min: 0, max: PANEL_W, offset: false },
          y: { type: "linear", display: false, min: 0, max: height, reverse: true },
        },
      } as any,
      plugins: [cellLabels],
    });
    return () => chart.destroy();
  }, [strips, height]);
  return (
    <canvas
      ref={ref}
      width={PANEL_W}
      height={height}
      style={{ position: "absolute", left: 8, top, width: PANEL_W, height, filter: "blur(0.35px)" }}
    />
  );
}

const captionStyle: React.CSSProperties = {
  position: "absolute",
  left: 0,
  width: 834,
  textAlign: "center",
  fontFamily: '"Liberation Serif", "Noto Sans CJK KR", serif',
  fontSize: 20,
  letterSpacing: 1.5,
  lineHeight: "24px",
  color: "#222",
  whiteSpace: "pre",
};

export default function App() {
  return (
    <div>
      <Treemap strips={panelAStrips} height={PANEL_A_H} top={10} />
      <div style={{ ...captionStyle, top: 482 }}>{captionA}</div>
      <Treemap strips={panelBStrips} height={PANEL_B_H} top={516} />
      <div style={{ ...captionStyle, top: 993 }}>{captionB}</div>
    </div>
  );
}
